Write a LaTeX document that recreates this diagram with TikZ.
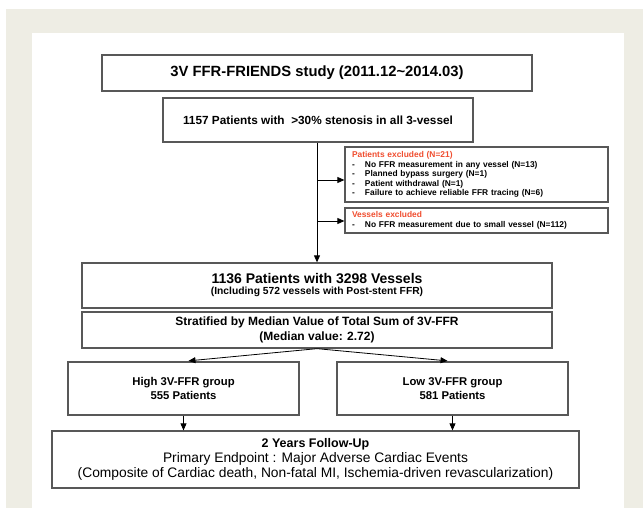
\documentclass[tikz,border=0pt]{standalone}
\usepackage{fontspec}
\setmainfont{Liberation Sans}
\usetikzlibrary{arrows.meta}
\usetikzlibrary{positioning}
\definecolor{panelbg}{RGB}{238,237,228}
\definecolor{boxline}{RGB}{88,88,88}
\definecolor{exclred}{RGB}{240,78,48}
\newcommand{\exitem}[1]{\makebox[13pt][l]{-}#1}

\begin{document}
\begin{tikzpicture}[x=1pt,y=-1pt,
  box/.style={draw=boxline,line width=1.3pt,fill=white,align=center,inner sep=0pt},
  exclbox/.style={box,align=left,inner xsep=7pt,text width=249pt,font=\fontsize{8.4}{9.5}\selectfont\bfseries},
  arr/.style={-{Triangle[length=7pt,width=6pt]},line width=0.8pt}
]
\useasboundingbox (0,0) rectangle (643,508);
\fill[panelbg] (6,9) rectangle (643,508);
\fill[white] (32,33) rectangle (624,508);

% main column
\node[box,minimum width=430pt,minimum height=36pt,font=\fontsize{14.8}{17}\selectfont\bfseries]
  (study) at (317,73) {3V FFR-FRIENDS study (2011.12\textasciitilde 2014.03)};
\node[box,minimum width=310pt,minimum height=44pt,font=\fontsize{11.8}{14}\selectfont\bfseries]
  (enrol) at (318,120) {1157 Patients with\ \ >30\% stenosis in all 3-vessel};
\node[box,minimum width=470pt,minimum height=45pt]
  (cohort) at (317,285.5) {{\fontsize{14}{16}\selectfont\bfseries 1136 Patients with 3298 Vessels}\\[-1pt]
  {\fontsize{10.3}{12}\selectfont\bfseries (Including 572 vessels with Post-stent FFR)}};
\node[box,minimum width=470pt,minimum height=36pt,font=\fontsize{12}{14.5}\selectfont\bfseries]
  (strat) at (317,330) {Stratified by Median Value of Total Sum of 3V-FFR\\(Median value: 2.72)};

% exclusions
\node[exclbox,minimum height=55pt] (pexcl) at (476.5,174.5)
  {{\color{exclred}Patients excluded (N=21)}\\
   \exitem{No FFR measurement in any vessel (N=13)}\\
   \exitem{Planned bypass surgery (N=1)}\\
   \exitem{Patient withdrawal (N=1)}\\
   \exitem{Failure to achieve reliable FFR tracing (N=6)}};
\node[exclbox,minimum height=25pt] (vexcl) at (476.5,220.5)
  {{\color{exclred}Vessels excluded}\\
   \exitem{No FFR measurement due to small vessel (N=112)}};

% groups
\node[box,minimum width=231pt,minimum height=53pt,font=\fontsize{11.3}{14}\selectfont\bfseries]
  (high) at (183.5,388.5) {High 3V-FFR group\\555 Patients};
\node[box,minimum width=231pt,minimum height=53pt,font=\fontsize{11.3}{14}\selectfont\bfseries]
  (low) at (452.5,388.5) {Low 3V-FFR group\\581 Patients};
\node[box,minimum width=527pt,minimum height=57pt,font=\fontsize{13.8}{14.8}\selectfont]
  (follow) at (315.5,459.5) {{\fontsize{12.5}{14.8}\selectfont\bfseries 2 Years Follow-Up}\\
  Primary Endpoint : Major Adverse Cardiac Events\\
  (Composite of Cardiac death, Non-fatal MI, Ischemia-driven revascularization)};

% connectors
\coordinate (jp) at (317,180);
\coordinate (jv) at (317,221);
\draw[arr] (enrol.south -| jp) -- (cohort.north -| jp);
\draw[arr] (jp) -- (jp -| pexcl.west);
\draw[arr] (jv) -- (jv -| vexcl.west);
\draw[arr,shorten >=5pt] (strat.south) -- (high.north);
\draw[arr,shorten >=5pt] (strat.south) -- (low.north);
\draw[arr] (high.south) -- (high.south |- follow.north);
\draw[arr] (low.south) -- (low.south |- follow.north);
\end{tikzpicture}
\end{document}
